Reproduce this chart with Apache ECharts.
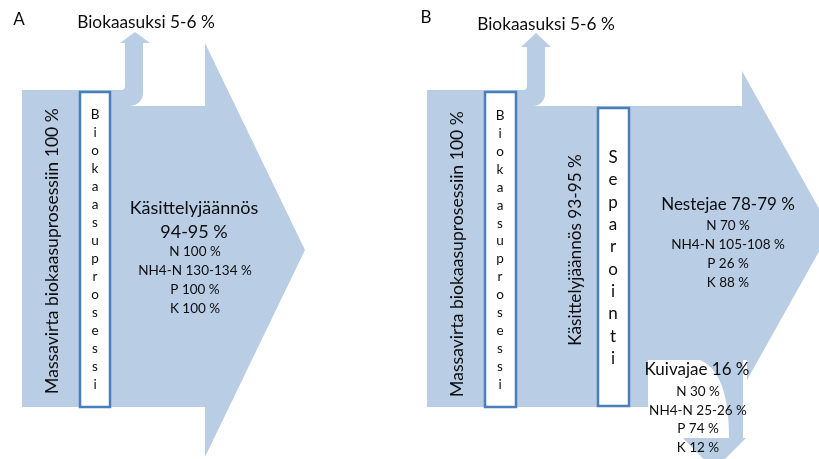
<!DOCTYPE html>
<html>
<head>
<meta charset="utf-8">
<script src="https://cdn.jsdelivr.net/npm/echarts@6/dist/echarts.min.js"></script>
<style>html,body{margin:0;padding:0;background:#fff}#c{width:819px;height:459px}</style>
</head>
<body>
<div id="c"></div>
<script>
// ---- text / values ----
const panelLabels = ['A', 'B'];
const biogasLabel = 'Biokaasuksi 5-6 %';
const inputLabel = 'Massavirta biokaasuprosessiin 100 %';
const processLabel = 'Biokaasuprosessi';
const separationLabel = 'Separointi';
const residueTitleA = ['Käsittelyjäännös', '94-95 %'];
const residueNutrientsA = ['N 100 %', 'NH4-N 130-134 %', 'P 100 %', 'K 100 %'];
const residueLabelB = 'Käsittelyjäännös 93-95 %';
const liquidTitle = 'Nestejae 78-79 %';
const liquidNutrients = ['N 70 %', 'NH4-N 105-108 %', 'P 26 %', 'K 88 %'];
const solidTitle = 'Kuivajae 16 %';
const solidNutrients = ['N 30 %', 'NH4-N 25-26 %', 'P 74 %', 'K 12 %'];

// ---- diagram geometry (in the hidden axes' units) ----
const FILL = '#b9cde5';
const BORDER = '#4a7ebb';
const TXT = '#0d0d0d';
const FONT = 'Lato, "Open Sans", sans-serif';

function quarterArc(cx, cy, r, a0, a1, n) {
  const pts = [];
  for (let i = 0; i <= n; i++) {
    const a = a0 + (a1 - a0) * i / n;
    pts.push([cx + r * Math.cos(a), cy + r * Math.sin(a)]);
  }
  return pts;
}
function quad(p0, c, p1, n) {
  const pts = [];
  for (let i = 0; i <= n; i++) {
    const t = i / n;
    pts.push([(1-t)*(1-t)*p0[0] + 2*(1-t)*t*c[0] + t*t*p1[0], (1-t)*(1-t)*p0[1] + 2*(1-t)*t*c[1] + t*t*p1[1]]);
  }
  return pts;
}
function flowShape(g) {
  const sc = (g.headL + g.headR) / 2;
  let pts = [[g.left, g.top]];
  pts = pts.concat(quad([g.shaftL - 4, g.top], [g.shaftL, g.top], [g.shaftL, g.top - 4], 4));
  pts.push([g.shaftL, g.headBase], [g.headL, g.headBase], [sc, g.headTip], [g.headR, g.headBase], [g.shaftR, g.headBase]);
  const r = g.flowTop - g.arcStart;
  pts = pts.concat(quarterArc(g.shaftR - r, g.arcStart, r, 0, Math.PI / 2, 10));
  pts.push([g.arrowX, g.flowTop], [g.arrowX, g.arrowTop], [g.tipX, g.tipY], [g.arrowX, g.arrowBot], [g.arrowX, g.bottom], [g.left, g.bottom]);
  return pts;
}
const shapeA = flowShape({left: 22, top: 90, shaftL: 125, shaftR: 143, headL: 120, headR: 150, headBase: 43, headTip: 32,
  arcStart: 93, flowTop: 106, arrowX: 205, arrowTop: 43, tipX: 305, tipY: 250, arrowBot: 457, bottom: 407});
const shapeB = flowShape({left: 427, top: 90, shaftL: 527, shaftR: 545, headL: 521, headR: 551, headBase: 47, headTip: 33,
  arcStart: 94, flowTop: 106, arrowX: 742, arrowTop: 71, tipX: 831, tipY: 230, arrowBot: 389, bottom: 407});
const gapB = [[648, 360], [747, 360], [747, 459], [648, 459]];
const branchB = [[700, 360]].concat(quad([700, 360], [729, 372], [729, 438], 12))
  .concat([[683, 438], [714, 470], [746, 438], [743, 438], [743, 360]]);

const boxes = [[80, 92, 30, 315], [485, 92, 31, 315], [598, 108, 31, 298]];

function lettersText(word) { return word.split('').join('\n'); }

const texts = [
  // [text, x, y, size, rotate, lineHeight]
  [panelLabels[0], 19, 20, 17, 0],
  [panelLabels[1], 426, 18, 17, 0],
  [biogasLabel, 146, 22, 17.3, 0],
  [biogasLabel, 546, 24, 17.3, 0],
  [inputLabel, 52, 251, 17.6, 90],
  [inputLabel, 457, 254, 17.6, 90],
  [lettersText(processLabel), 95, 250, 13.5, 0, 18],
  [lettersText(processLabel), 500, 250, 13.5, 0, 17.9],
  [lettersText(separationLabel), 613, 258, 17, 0, 22.3],
  [residueLabelB, 575, 250, 17.2, 90],
  [residueTitleA[0], 194, 208, 18, 0],
  [residueTitleA[1], 194, 232, 18, 0],
  [residueNutrientsA[0], 195, 252, 13.5, 0],
  [residueNutrientsA[1], 195, 271, 13.5, 0],
  [residueNutrientsA[2], 195, 290, 13.5, 0],
  [residueNutrientsA[3], 195, 309, 13.5, 0],
  [liquidTitle, 728, 205, 17, 0],
  [liquidNutrients[0], 728, 226, 13.5, 0],
  [liquidNutrients[1], 728, 245, 13.5, 0],
  [liquidNutrients[2], 728, 264, 13.5, 0],
  [liquidNutrients[3], 728, 283, 13.5, 0],
  [solidTitle, 697, 370, 17, 0],
  [solidNutrients[0], 698, 392, 13.5, 0],
  [solidNutrients[1], 698, 411, 13.5, 0],
  [solidNutrients[2], 698, 429, 13.5, 0],
  [solidNutrients[3], 698, 448, 13.5, 0]
];

const chart = echarts.init(document.getElementById('c'), null, {renderer: 'canvas'});

function renderItem(params, api) {
  const c = p => api.coord(p);
  const poly = (pts, fill) => ({type: 'polygon', shape: {points: pts.map(c)}, style: {fill: fill, stroke: null}});
  const children = [
    poly(shapeA, FILL),
    poly(shapeB, FILL),
    poly(gapB, '#ffffff'),
    poly(branchB, FILL)
  ];
  boxes.forEach(b => {
    const p0 = c([b[0], b[1]]);
    const p1 = c([b[0] + b[2], b[1] + b[3]]);
    children.push({type: 'rect', shape: {x: p0[0], y: p0[1], width: p1[0] - p0[0], height: p1[1] - p0[1]},
      style: {fill: '#ffffff', stroke: BORDER, lineWidth: 2.5}});
  });
  texts.forEach(t => {
    const p = c([t[1], t[2]]);
    children.push({type: 'text', x: p[0], y: p[1], rotation: (t[4] || 0) * Math.PI / 180,
      style: {text: t[0], fill: TXT, fontSize: t[3], fontFamily: FONT, align: 'center', verticalAlign: 'middle',
        lineHeight: t[5] || undefined}});
  });
  return {type: 'group', children: children};
}

chart.setOption({
  animation: false,
  grid: {left: 0, right: 0, top: 0, bottom: 0},
  xAxis: {type: 'value', min: 0, max: 819, show: false},
  yAxis: {type: 'value', min: 0, max: 459, inverse: true, show: false},
  series: [{
    type: 'custom',
    coordinateSystem: 'cartesian2d',
    renderItem: renderItem,
    data: [[0, 0]],
    clip: false,
    silent: true
  }]
});
</script>
</body>
</html>
